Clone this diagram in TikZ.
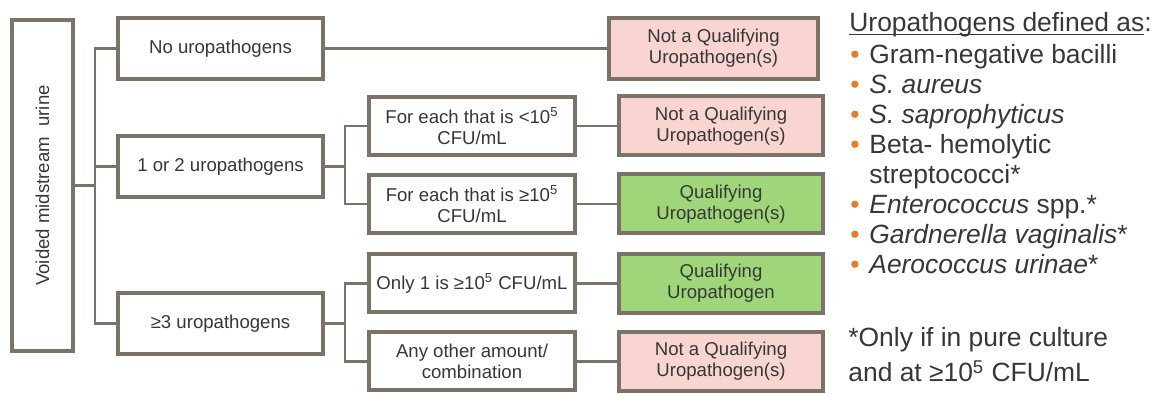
\documentclass[tikz,border=0pt]{standalone}
\usepackage{fontspec}
\setmainfont{Liberation Sans}
\usetikzlibrary{positioning}

\definecolor{edgegray}{RGB}{125,114,104}
\definecolor{nofill}{RGB}{248,213,209}
\definecolor{yesfill}{RGB}{160,214,122}
\definecolor{textgray}{RGB}{55,55,55}
\definecolor{bulletorange}{RGB}{232,122,40}
\newcommand{\bul}{\makebox[10pt][l]{\hspace*{0.5pt}\textcolor{bulletorange}{\textbullet}}}
\newcommand{\ulnear}[1]{\setbox0\hbox{#1}\rlap{\rule[-1.4pt]{\wd0}{0.6pt}}\box0}

\begin{document}
\begin{tikzpicture}[x=0.5pt, y=-0.5pt,
    every node/.style={align=center, text=textgray},
    box/.style={draw=edgegray, line width=2pt, fill=white, inner sep=0pt,
        font=\fontsize{9.3}{10.5}\selectfont},
    groupbox/.style={box, minimum width=102.5pt, minimum height=30.5pt},
    countbox/.style={box, minimum width=103pt, minimum height=29pt},
    noqual/.style={box, fill=nofill, minimum width=102pt, minimum height=29.5pt},
    qual/.style={box, fill=yesfill, minimum width=102pt, minimum height=29.5pt},
    link/.style={draw=edgegray, line width=1.1pt},
    listtext/.style={align=left, inner sep=0pt, font=\fontsize{13.2}{15}\selectfont}]
    \useasboundingbox (0,0) rectangle (1152,394);
    % Sample box
    \node[box, minimum width=30.5pt, minimum height=165.5pt] (urine) at (42.5,185.5)
        {\rotatebox{90}{Voided midstream\ \ urine}};
    % Number of uropathogens
    \node[groupbox] (none) at (220.5,48.5) {No uropathogens};
    \node[groupbox] (onetwo) at (220.5,166.5) {1 or 2 uropathogens};
    \node[groupbox] (three) at (220.5,323.5) {≥3 uropathogens};
    % Counts
    \node[countbox] (low) at (472,126) {For each that is <10\textsuperscript{5}\\CFU/mL};
    \node[countbox] (high) at (472,204) {For each that is ≥10\textsuperscript{5}\\CFU/mL};
    \node[countbox] (onlyone) at (472,283.5) {Only 1 is ≥10\textsuperscript{5} CFU/mL};
    \node[countbox] (anyother) at (472,361.5) {Any other amount/\\combination};
    % Outcomes
    \node[noqual, minimum width=104.5pt, minimum height=30.5pt] (notqa) at (713.5,48.5)
        {Not a Qualifying\\Uropathogen(s)};
    \node[noqual] (notqb) at (721,126) {Not a Qualifying\\Uropathogen(s)};
    \node[qual] (qualb) at (721,204) {Qualifying\\Uropathogen(s)};
    \node[qual] (qualc) at (721,283.5) {Qualifying\\Uropathogen};
    \node[noqual] (notqc) at (721,361.5) {Not a Qualifying\\Uropathogen(s)};
    % Connectors
    \coordinate (trunk) at (95,185.5);
    \coordinate (splitb) at (345,166.5);
    \coordinate (splitc) at (345,323.5);
    \draw[link] (urine.east) -- (trunk);
    \draw[link] (trunk) |- (none.west);
    \draw[link] (trunk) |- (onetwo.west);
    \draw[link] (trunk) |- (three.west);
    \draw[link] (onetwo.east) -- (splitb);
    \draw[link] (splitb) |- (low.west);
    \draw[link] (splitb) |- (high.west);
    \draw[link] (three.east) -- (splitc);
    \draw[link] (splitc) |- (onlyone.west);
    \draw[link] (splitc) |- (anyother.west);
    \draw[link] (none) -- (notqa);
    \draw[link] (low) -- (notqb);
    \draw[link] (high) -- (qualb);
    \draw[link] (onlyone) -- (qualc);
    \draw[link] (anyother) -- (notqc);
    % Definitions (base = last line)
    \node[listtext, anchor=base west] (deftitle) at (849,32) {\ulnear{Uropathogens defined as}:};
    \node[listtext, anchor=base west] (deflist) at (849,274)
        {\bul Gram-negative bacilli\\
         \bul\textit{S. aureus}\\
         \bul\textit{S. saprophyticus}\\
         \bul Beta- hemolytic\\
         \hspace*{10pt}streptococci*\\
         \bul\textit{Enterococcus} spp.*\\
         \bul\textit{Gardnerella vaginalis}*\\
         \bul\textit{Aerococcus urinae}*};
    \node[listtext, anchor=base west, font=\fontsize{13.2}{17.5}\selectfont] (purenote) at (848,382)
        {*Only if in pure culture\\and at ≥10\textsuperscript{5} CFU/mL};
\end{tikzpicture}
\end{document}
